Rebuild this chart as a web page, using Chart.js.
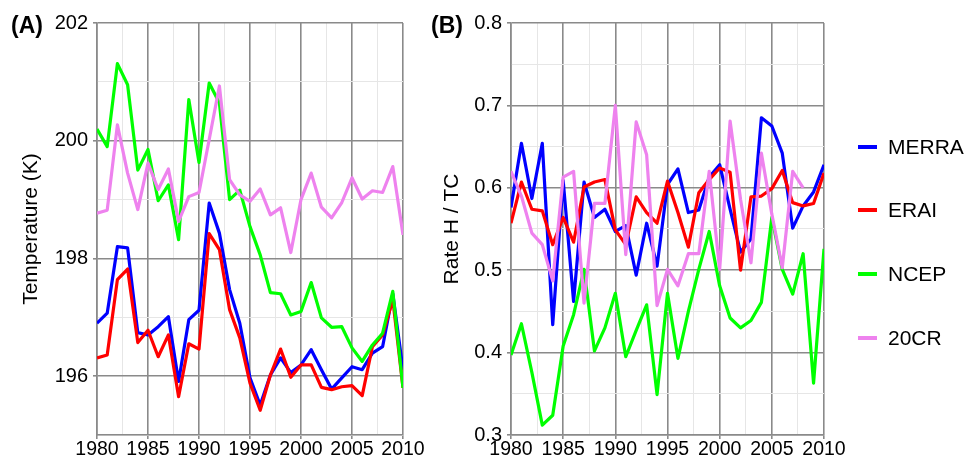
<!DOCTYPE html>
<html>
<head>
<meta charset="utf-8">
<script src="https://cdn.jsdelivr.net/npm/chart.js@4.4.1/dist/chart.umd.min.js"></script>
<style>
    html, body { margin: 0; padding: 0; background: #fff; }
    body { width: 979px; height: 463px; position: relative; overflow: hidden; font-family: 'Liberation Sans', Arial, sans-serif; color: #000; }
    .panel { position: absolute; top: 0; width: 430px; height: 463px; }
    #panelA { left: 0; }
    #panelB { left: 430px; }
    .tag { position: absolute; font-weight: bold; font-size: 23px; line-height: 1; }
    .item { position: absolute; left: 858px; font-size: 21px; line-height: 1; white-space: nowrap; }
    .swatch { position: absolute; left: 0; top: -2px; width: 19px; height: 4px; }
    .label { position: absolute; left: 30px; top: -11px; }
</style>
</head>
<body>
<div class="panel" id="panelA"><canvas id="tempChart"></canvas></div>
<div class="panel" id="panelB"><canvas id="rateChart"></canvas></div>
<div class="tag" style="left:11px; top:14px;">(A)</div>
<div class="tag" style="left:431px; top:14px;">(B)</div>
<div id="legend"></div>

<script>
// data, one value per year
const years = [1980, 1981, 1982, 1983, 1984, 1985, 1986, 1987, 1988, 1989,
               1990, 1991, 1992, 1993, 1994, 1995, 1996, 1997, 1998, 1999,
               2000, 2001, 2002, 2003, 2004, 2005, 2006, 2007, 2008, 2009, 2010];

const seriesNames = ['MERRA', 'ERAI', 'NCEP', '20CR'];
const seriesColors = ['#0000ff', '#ff0000', '#00ff00', '#ee82ee'];

// (A) temperature, K
const tempMerra = [196.90, 197.07, 198.20, 198.18, 196.74, 196.70, 196.84, 197.01, 195.91, 196.96,
                   197.12, 198.94, 198.43, 197.47, 196.90, 195.97, 195.51, 196.02, 196.31, 196.06,
                   196.19, 196.45, 196.11, 195.78, 195.97, 196.16, 196.11, 196.39, 196.50, 197.40, 196.11];
const tempErai = [196.31, 196.36, 197.64, 197.82, 196.57, 196.78, 196.33, 196.70, 195.65, 196.55,
                  196.46, 198.42, 198.15, 197.13, 196.65, 195.88, 195.42, 196.02, 196.46, 195.98,
                  196.19, 196.19, 195.81, 195.77, 195.82, 195.84, 195.67, 196.50, 196.70, 197.30, 195.80];
const tempNcep = [200.20, 199.90, 201.31, 200.95, 199.50, 199.85, 198.98, 199.25, 198.32, 200.70,
                  199.63, 200.98, 200.64, 199.00, 199.16, 198.54, 198.06, 197.42, 197.40, 197.04,
                  197.10, 197.59, 196.99, 196.83, 196.84, 196.48, 196.25, 196.53, 196.73, 197.44, 195.80];
const temp20cr = [198.77, 198.82, 200.27, 199.45, 198.83, 199.62, 199.17, 199.52, 198.63, 199.05,
                  199.12, 200.02, 200.93, 199.34, 199.08, 198.97, 199.18, 198.74, 198.86, 198.10,
                  199.00, 199.45, 198.87, 198.69, 198.95, 199.37, 199.01, 199.15, 199.12, 199.56, 198.40];

// (B) rate H / TC
const rateMerra = [0.576, 0.654, 0.587, 0.654, 0.434, 0.609, 0.462, 0.607, 0.564, 0.574,
                   0.547, 0.554, 0.494, 0.557, 0.505, 0.604, 0.623, 0.570, 0.573, 0.613,
                   0.628, 0.574, 0.522, 0.538, 0.685, 0.675, 0.642, 0.551, 0.578, 0.595, 0.628];
const rateErai = [0.557, 0.607, 0.574, 0.572, 0.531, 0.564, 0.534, 0.601, 0.607, 0.610,
                  0.549, 0.531, 0.589, 0.570, 0.557, 0.608, 0.570, 0.528, 0.594, 0.610,
                  0.624, 0.619, 0.500, 0.589, 0.590, 0.599, 0.621, 0.582, 0.578, 0.581, 0.618];
const rateNcep = [0.397, 0.435, 0.376, 0.312, 0.324, 0.408, 0.446, 0.501, 0.402, 0.430,
                  0.472, 0.395, 0.427, 0.458, 0.349, 0.472, 0.393, 0.450, 0.501, 0.547,
                  0.481, 0.442, 0.430, 0.439, 0.461, 0.564, 0.501, 0.471, 0.520, 0.363, 0.526];
const rate20cr = [0.620, 0.590, 0.545, 0.531, 0.487, 0.613, 0.620, 0.460, 0.581, 0.581,
                  0.700, 0.519, 0.680, 0.640, 0.457, 0.501, 0.481, 0.520, 0.520, 0.620,
                  0.501, 0.681, 0.586, 0.509, 0.642, 0.568, 0.503, 0.620, 0.600, null, null];

const xTicksMajor = 5;
const tempTickMajor = 2;

Chart.defaults.font.family = "'Liberation Sans', Arial, sans-serif";
Chart.defaults.color = '#000';

const MAJOR = '#8a8a8a';
const MINOR = '#e6e6e6';

function toPoints(values) {
    return years.map(function (yr, i) {
        return { x: yr, y: values[i] };
    });
}

function makeDatasets(merra, erai, ncep, c20) {
    // drawn bottom to top: 20CR, NCEP, ERAI, MERRA
    const all = [merra, erai, ncep, c20];
    const order = [3, 2, 1, 0];
    return order.map(function (i) {
        return {
            label: seriesNames[i],
            data: toPoints(all[i]),
            borderColor: seriesColors[i],
            backgroundColor: seriesColors[i],
            borderWidth: 3.2,
            pointRadius: 0,
            tension: 0,
            fill: false,
            borderJoinStyle: 'round',
            spanGaps: false
        };
    });
}

function gridFor(isMajor) {
    return {
        color: function (ctx) { return ctx.tick && isMajor(ctx.tick.value) ? MAJOR : MINOR; },
        lineWidth: function (ctx) { return ctx.tick && isMajor(ctx.tick.value) ? 1.6 : 1; },
        tickColor: function (ctx) { return ctx.tick && isMajor(ctx.tick.value) ? MAJOR : 'rgba(0,0,0,0)'; },
        tickLength: 4,
        drawTicks: true
    };
}

function xIsMajor(v) { return Math.abs(v % xTicksMajor) < 1e-6; }

function makeChart(canvasId, cfg) {
    return new Chart(document.getElementById(canvasId), {
        type: 'line',
        data: { datasets: cfg.datasets },
        options: {
            responsive: true,
            maintainAspectRatio: false,
            animation: false,
            layout: { padding: { left: 0, right: cfg.padRight, top: 23, bottom: 0 } },
            plugins: { legend: { display: false }, tooltip: { enabled: false } },
            scales: {
                x: {
                    type: 'linear',
                    min: 1980,
                    max: 2010,
                    border: { display: true, color: MAJOR, width: 1.6 },
                    grid: gridFor(xIsMajor),
                    ticks: {
                        stepSize: 2.5,
                        autoSkip: false,
                        maxRotation: 0,
                        padding: 1,
                        font: { size: 19.5, lineHeight: 1 },
                        callback: function (v) { return xIsMajor(v) ? String(v) : ''; }
                    },
                    afterFit: function (scale) {
                        scale.height = 28;
                        scale.paddingLeft = 0;
                        scale.paddingRight = 0;
                    }
                },
                y: {
                    type: 'linear',
                    min: cfg.yMin,
                    max: cfg.yMax,
                    border: { display: true, color: MAJOR, width: 1.6 },
                    grid: gridFor(cfg.yIsMajor),
                    ticks: {
                        stepSize: cfg.yStep,
                        autoSkip: false,
                        padding: 5,
                        font: { size: 20, lineHeight: 1 },
                        callback: function (v) { return cfg.yIsMajor(v) ? cfg.yFormat(v) : ''; }
                    },
                    title: {
                        display: true,
                        text: cfg.yTitle,
                        font: { size: 21 },
                        padding: { top: cfg.titlePad, bottom: 0 }
                    },
                    afterFit: function (scale) {
                        scale.width = cfg.yWidth;
                        scale.paddingTop = 0;
                        scale.paddingBottom = 0;
                    }
                }
            }
        }
    });
}

makeChart('tempChart', {
    datasets: makeDatasets(tempMerra, tempErai, tempNcep, temp20cr),
    padRight: 27,
    yMin: 195,
    yMax: 202,
    yStep: 1,
    yIsMajor: function (v) { return Math.round(v) % tempTickMajor === 0; },
    yFormat: function (v) { return String(Math.round(v)); },
    yTitle: 'Temperature (K)',
    titlePad: 19,
    yWidth: 97
});

makeChart('rateChart', {
    datasets: makeDatasets(rateMerra, rateErai, rateNcep, rate20cr),
    padRight: 36,
    yMin: 0.3,
    yMax: 0.8,
    yStep: 0.05,
    yIsMajor: function (v) { return Math.round(v * 100) % 10 === 0; },
    yFormat: function (v) { return v.toFixed(1); },
    yTitle: 'Rate H / TC',
    titlePad: 10,
    yWidth: 81
});

// legend on the right
const legendTops = [147, 210, 274, 338];
const legend = document.getElementById('legend');
seriesNames.forEach(function (name, i) {
    const item = document.createElement('div');
    item.className = 'item';
    item.style.top = legendTops[i] + 'px';
    item.innerHTML = '<span class="swatch" style="background:' + seriesColors[i] + '"></span>' +
        '<span class="label">' + name + '</span>';
    legend.appendChild(item);
});
</script>
</body>
</html>
